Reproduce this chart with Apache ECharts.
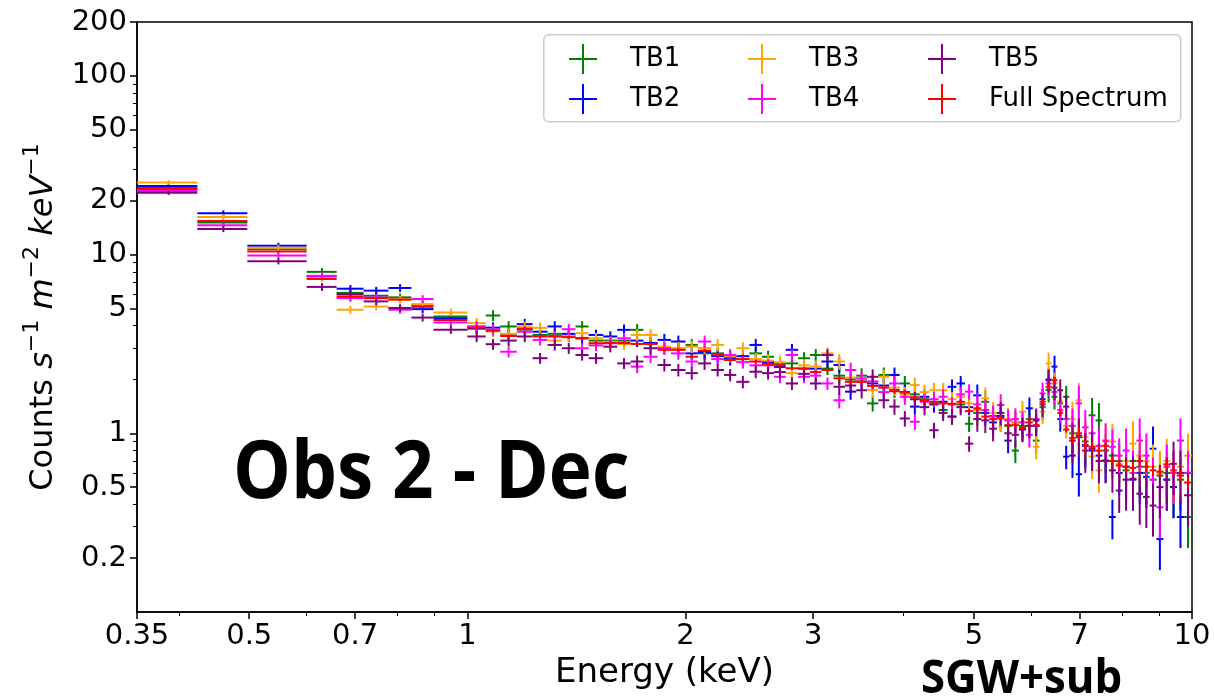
<!DOCTYPE html>
<html><head><meta charset="utf-8">
<script src="https://cdn.jsdelivr.net/npm/echarts@6/dist/echarts.min.js"></script>
<style>html,body{margin:0;padding:0;background:#fff}#c{width:1214px;height:697px}</style>
</head><body><div id="c"></div>
<script>
// ---- data (keV bin edges; counts s^-1 m^-2 keV^-1) ----
const binEdges = [0.35,0.424,0.497,0.60,0.66,0.719,0.778,0.837,0.898,1.0,
1.06,1.11,1.17,1.23,1.29,1.35,1.41,1.47,1.54,1.61,
1.68,1.75,1.83,1.91,2.0,2.08,2.17,2.26,2.35,2.45,
2.55,2.65,2.75,2.86,2.97,3.08,3.20,3.32,3.44,3.56,
3.69,3.82,3.95,4.08,4.21,4.34,4.47,4.60,4.73,4.86,
4.99,5.12,5.25,5.38,5.51,5.64,5.77,5.90,6.03,6.16,
6.28,6.40,6.52,6.64,6.77,6.91,7.05,7.20,7.36,7.52,
7.68,7.85,8.02,8.20,8.38,8.56,8.74,8.93,9.13,9.33,
9.53,9.75,10.0];

const fullSpectrum = [23.6,15.4,10.4,7.3,5.83,5.7,5.6,5.1,4.3,
3.9,3.75,3.5,3.85,3.48,3.48,3.45,3.4,3.19,3.19,3.2,
3.16,3.16,2.93,2.93,2.68,2.9,2.74,2.57,2.6,2.52,
2.44,2.4,2.31,2.3,2.2,2.26,2.03,1.94,1.94,1.84,
1.8,1.72,1.69,1.59,1.52,1.47,1.47,1.46,1.5,1.33,
1.38,1.24,1.2,1.22,1.11,1.11,1.07,1.15,1.11,1.5,
1.82,1.98,1.3,1.05,0.94,1.0,0.86,0.84,0.8,0.85,
0.7,0.66,0.65,0.64,0.7,0.65,0.62,0.61,0.67,0.62,
0.58,0.53];

const tb1 = [23.2,15.1,10.7,8.0,6.1,5.88,5.76,5.2,4.5,
3.95,4.56,3.96,3.8,3.55,3.6,3.48,3.96,3.3,3.3,3.3,
3.79,3.2,3.0,2.95,3.12,2.8,2.8,2.65,2.6,2.8,
2.68,2.45,2.46,2.63,2.74,2.3,2.1,2.0,2.1,1.47,
2.12,1.75,1.9,1.65,1.55,1.5,1.35,1.24,1.45,1.13,
1.3,1.5,1.25,1.2,1.1,0.8,1.1,1.2,0.91,1.4,
1.75,1.6,1.47,1.6,1.0,0.95,0.9,1.26,1.18,0.8,
0.75,0.7,0.62,0.7,0.65,0.6,0.55,0.58,0.6,0.5,
0.55,0.34];

const tb2 = [24.2,17.0,11.2,7.55,6.44,6.28,6.5,4.95,4.4,
3.85,3.9,3.58,4.08,3.7,3.96,3.6,3.4,3.55,3.48,3.79,
3.3,3.2,3.33,3.26,2.8,2.85,2.7,2.6,2.7,3.12,
2.5,2.35,2.93,2.3,2.3,2.52,2.41,1.71,1.95,1.9,
1.85,2.12,1.7,1.41,1.6,1.45,1.5,1.82,1.9,1.4,
1.63,1.3,1.15,1.25,0.91,1.15,1.05,1.38,1.1,1.55,
2.0,2.36,1.2,0.74,0.75,0.59,0.85,0.8,0.75,0.7,
0.34,0.6,0.65,0.55,0.6,0.57,0.82,0.256,0.55,0.5,
0.34,0.6];

const tb3 = [25.3,16.2,10.9,7.4,4.91,5.12,5.6,5.28,4.74,
4.13,3.71,3.6,3.95,3.89,3.3,3.5,3.63,3.4,3.25,3.15,
3.55,3.55,3.05,3.0,3.05,3.0,3.12,2.7,2.99,2.6,
2.55,2.5,2.17,2.4,2.36,2.8,2.52,2.05,2.0,1.75,
2.07,1.8,1.65,1.86,1.7,1.74,1.74,1.55,1.6,1.47,
1.35,1.57,1.3,1.2,1.2,1.15,1.32,1.1,0.84,1.32,
2.46,1.9,1.5,1.1,1.2,1.53,0.95,0.74,0.62,0.9,
0.9,0.675,0.7,0.875,0.75,0.7,0.65,0.6,0.7,0.6,
0.65,0.75];

const tb4 = [22.7,14.6,9.87,7.6,5.71,5.75,4.91,5.64,4.17,
3.96,3.8,2.86,3.7,3.33,3.5,3.82,2.99,3.1,3.2,3.4,
2.36,2.68,2.99,2.8,2.52,3.26,2.6,2.74,2.5,2.4,
2.4,2.07,2.74,2.07,2.1,1.9,1.53,2.26,2.03,1.95,
1.7,1.9,1.6,1.16,1.5,1.55,1.6,1.45,1.65,1.71,
1.45,1.35,1.24,1.44,1.18,1.2,1.15,0.98,1.2,1.67,
1.9,1.7,1.35,1.2,1.1,1.47,1.08,1.0,0.85,0.91,
0.84,0.75,0.8,0.6,0.91,0.75,0.55,0.385,0.65,0.6,
0.91,0.6];

const tb5 = [22.2,13.9,9.17,6.59,6.0,5.47,5.02,4.44,3.79,
3.48,3.15,3.3,3.48,2.63,3.12,2.99,2.74,2.63,3.05,2.46,
2.52,2.99,2.41,2.26,2.17,2.46,2.26,2.12,1.94,2.21,
2.17,2.2,1.9,2.15,1.9,2.74,1.82,1.85,1.74,2.07,
1.53,1.41,1.21,1.55,1.4,1.04,1.3,1.24,1.4,0.875,
1.2,1.18,1.06,1.3,1.0,0.98,1.06,1.1,1.18,1.45,
1.98,1.8,1.74,1.41,0.91,0.97,0.8,0.82,0.7,0.705,
0.62,0.478,0.55,0.557,0.459,0.44,0.394,0.5,0.55,0.675,
0.6,0.45];

// relative 1-sigma errors per bin
const tbRelErr = [0.03,0.04,0.04,0.05,0.05,0.05,0.05,0.05,0.05,
0.07,0.07,0.07,0.07,0.07,0.07,0.07,0.07,0.07,0.07,0.07,
0.08,0.08,0.08,0.08,0.08,0.08,0.08,0.08,0.08,0.08,
0.08,0.08,0.08,0.08,0.08,0.08,0.10,0.10,0.10,0.10,
0.10,0.10,0.10,0.10,0.10,0.10,0.10,0.10,0.10,0.10,
0.15,0.15,0.15,0.15,0.15,0.15,0.15,0.15,0.15,0.15,
0.15,0.15,0.15,0.15,0.25,0.25,0.25,0.25,0.25,0.25,
0.25,0.25,0.33,0.33,0.33,0.33,0.33,0.33,0.33,0.33,
0.33,0.33];
const fullRelErr = [0.01,0.01,0.01,0.01,0.01,0.01,0.01,0.01,0.01,
0.02,0.02,0.02,0.02,0.02,0.02,0.02,0.02,0.02,0.02,0.02,
0.02,0.02,0.02,0.02,0.02,0.02,0.02,0.02,0.02,0.02,
0.02,0.02,0.02,0.02,0.02,0.02,0.03,0.03,0.03,0.03,
0.03,0.03,0.03,0.03,0.03,0.03,0.03,0.03,0.03,0.03,
0.03,0.03,0.03,0.03,0.03,0.03,0.03,0.03,0.03,0.04,
0.04,0.04,0.04,0.04,0.07,0.07,0.07,0.07,0.07,0.07,
0.07,0.07,0.07,0.07,0.07,0.07,0.07,0.07,0.07,0.07,
0.07,0.07];

const seriesNames = ['TB1','TB2','TB3','TB4','TB5','Full Spectrum'];
const seriesColors = ['#008000','#0000ff','#ffa500','#ff00ff','#800080','#ff0000'];

const xTickLabels = [0.35,0.5,0.7,1,2,3,5,7,10];
const xMinorTicks = [0.4,0.6,0.8,0.9,4,6,8,9];
const yTickLabels = [0.2,0.5,1,5,10,20,50,100,200];
const yMinorTicks = [0.3,0.4,0.6,0.7,0.8,0.9,2,3,4,6,7,8,9,30,40,60,70,80,90];

// ---- build ----
function makeData(vals, rel){
  return vals.map((v,i)=>{const lo=binEdges[i], hi=binEdges[i+1];
    return [(lo+hi)/2, lo, hi, v, v*rel[i]];});
}
function renderCross(params, api){
  const x=api.value(0), lo=api.value(1), hi=api.value(2), y=api.value(3), e=api.value(4);
  const a=api.coord([lo,y]), b=api.coord([hi,y]), c=api.coord([x,y-e]), d=api.coord([x,y+e]);
  const style={stroke: api.visual('color'), lineWidth: 2};
  return {type:'group', children:[
    {type:'line', shape:{x1:a[0],y1:a[1],x2:b[0],y2:b[1]}, style:style},
    {type:'line', shape:{x1:c[0],y1:c[1],x2:d[0],y2:d[1]}, style:style}
  ]};
}
const allVals = [tb1,tb2,tb3,tb4,tb5,fullSpectrum];
const series = allVals.map((vals,k)=>({
  type:'custom', name: seriesNames[k], xAxisIndex:0, yAxisIndex:0,
  renderItem: renderCross, clip:true,
  itemStyle:{color: seriesColors[k]},
  encode:{x:[0,1,2], y:[3]},
  data: makeData(vals, k===5 ? fullRelErr : tbRelErr),
  z: 2 + k
}));

const font = 'DejaVu Sans';
const fmt = v => String(+Number(v).toPrecision(4));
const crossIcon = 'path://M0,14 L28,14 L28,16 L0,16 Z M13,0 L15,0 L15,30 L13,30 Z';
function legendCol(data, left){
  return {data:data, left:left, top:39, orient:'vertical', itemWidth:28, itemHeight:30, itemGap:10,
    icon: crossIcon, selectedMode:false,
    textStyle:{fontFamily:font, fontSize:26, color:'#000', padding:[0,0,0,28]}};
}

const chart = echarts.init(document.getElementById('c'), null, {renderer:'canvas'});
chart.setOption({
  animation:false,
  backgroundColor:'#fff',
  color: seriesColors,
  grid:{left:137, right:22, top:22, bottom:85, show:true, borderColor:'#000', borderWidth:1.5},
  legend:[legendCol(['TB1','TB2'],564), legendCol(['TB3','TB4'],743), legendCol(['TB5','Full Spectrum'],923)],
  xAxis:[{
    type:'log', logBase:10, min:0.35, max:10, position:'bottom',
    name:'Energy (keV)', nameLocation:'middle', nameGap:30,
    nameTextStyle:{fontFamily:font, fontSize:34, color:'#000'},
    axisLine:{show:true, lineStyle:{color:'#000', width:1.5}},
    axisTick:{show:true, inside:false, length:7, lineStyle:{color:'#000', width:1.5}, customValues:xTickLabels},
    axisLabel:{show:true, margin:10, fontFamily:font, fontSize:29, color:'#000', customValues:xTickLabels, formatter:fmt},
    splitLine:{show:false}, minorTick:{show:false}
  },{
    type:'log', logBase:10, min:0.35, max:10, position:'bottom',
    axisLine:{show:false},
    axisTick:{show:true, length:4, lineStyle:{color:'#000', width:1}, customValues:xMinorTicks},
    axisLabel:{show:false}, splitLine:{show:false}
  }],
  yAxis:[{
    type:'log', logBase:10, min:0.1, max:200, position:'left',
    name:'{a|Counts }{i|s}{s|\u22121}{i| m}{s|\u22122}{i| keV}{s|\u22121}',
    nameLocation:'middle', nameGap:70, nameRotate:90,
    nameTextStyle:{fontFamily:font, fontSize:32, color:'#000',
      rich:{
        a:{fontFamily:font, fontSize:32, color:'#000', lineHeight:46},
        i:{fontFamily:font, fontSize:32, fontStyle:'italic', color:'#000', lineHeight:46},
        s:{fontFamily:font, fontSize:22, color:'#000', verticalAlign:'top', lineHeight:24}
      }},
    axisLine:{show:true, lineStyle:{color:'#000', width:1.5}},
    axisTick:{show:true, length:7, lineStyle:{color:'#000', width:1.5}, customValues:yTickLabels},
    axisLabel:{show:true, margin:10, fontFamily:font, fontSize:29, color:'#000', customValues:yTickLabels, formatter:fmt},
    splitLine:{show:false}
  },{
    type:'log', logBase:10, min:0.1, max:200, position:'left',
    axisLine:{show:false},
    axisTick:{show:true, length:4, lineStyle:{color:'#000', width:1}, customValues:yMinorTicks},
    axisLabel:{show:false}, splitLine:{show:false}
  }],
  graphic:[
    {type:'rect', left:543, top:34, z:1, shape:{width:637, height:87, r:5},
     style:{fill:'rgba(255,255,255,0.8)', stroke:'#cccccc', lineWidth:1.5}},
    {type:'text', x:233, y:475, scaleX:0.91, z:10,
     style:{text:'Obs 2 - Dec', font:'bold 80px "Open Sans"', fill:'#000', textVerticalAlign:'middle', textAlign:'left'}},
    {type:'text', x:921, y:680, scaleX:0.95, z:10,
     style:{text:'SGW+sub', font:'bold 46px "Open Sans"', fill:'#000', textVerticalAlign:'middle', textAlign:'left'}}
  ],
  series: series
});
</script>
</body></html>
